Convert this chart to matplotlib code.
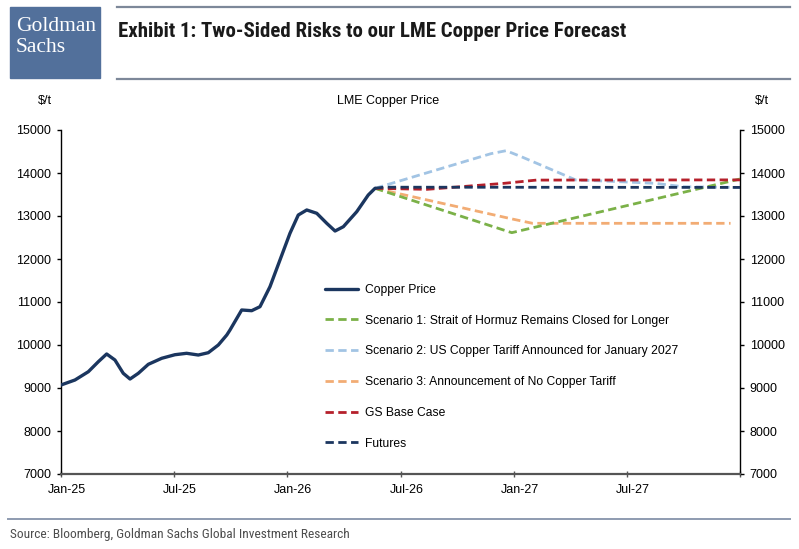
import numpy as np
import matplotlib
matplotlib.use("Agg")
import matplotlib.pyplot as plt
import matplotlib.font_manager as fm
import matplotlib.transforms as mtransforms

# months counted from Jan-25 (0) to Jan-28 (36)
tick_pos = [0, 6, 12, 18, 24, 30, 36]
tick_labels = ["Jan-25", "Jul-25", "Jan-26", "Jul-26", "Jan-27", "Jul-27", ""]
y_ticks = [7000, 8000, 9000, 10000, 11000, 12000, 13000, 14000, 15000]

copper_x = [0.0, 0.74, 1.45, 1.98, 2.42, 2.86, 3.30, 3.66, 4.10, 4.63, 5.34, 6.04,
            6.66, 7.28, 7.81, 8.34, 8.79, 8.96, 9.58, 10.11, 10.55, 11.08, 11.61,
            12.14, 12.58, 13.03, 13.56, 14.09, 14.53, 14.97, 15.68, 16.29, 16.65]
copper_y = [9070, 9186, 9379, 9612, 9791, 9651, 9342, 9209, 9342, 9551, 9691, 9774,
            9807, 9767, 9821, 10000, 10233, 10349, 10814, 10798, 10891, 11356, 11977,
            12598, 13023, 13140, 13063, 12830, 12651, 12751, 13100, 13488, 13644]

scen1_x = [16.65, 23.9, 36.0]
scen1_y = [13644, 12612, 13860]

scen2_x = [16.65, 22.8, 23.6, 24.4, 27.3, 29.0, 31.5, 33.0, 36.0]
scen2_y = [13644, 14450, 14519, 14380, 13837, 13810, 13760, 13680, 13665]

scen3_x = [16.65, 24.0, 25.0, 35.5]
scen3_y = [13644, 12923, 12830, 12830]

base_x = [16.65, 19.4, 23.5, 25.2, 36.0]
base_y = [13644, 13620, 13760, 13835, 13840]

fut_x = [16.65, 17.1, 36.0]
fut_y = [13644, 13670, 13665]

labels = ["Copper Price",
          "Scenario 1: Strait of Hormuz Remains Closed for Longer",
          "Scenario 2: US Copper Tariff Announced for January 2027",
          "Scenario 3: Announcement of No Copper Tariff",
          "GS Base Case",
          "Futures"]

navy = "#1b365f"
green = "#7bb148"
lblue = "#a2c4e4"
orange = "#f2ac74"
red = "#b5202b"
gs_blue = "#52709b"
rule = "#7d8899"

# fonts
names = {f.name for f in fm.fontManager.ttflist}
body_font = "Liberation Sans" if "Liberation Sans" in names else "DejaVu Sans"
narrow = None
for c in ["Liberation Sans Narrow", "Roboto Condensed", "Open Sans Condensed"]:
    if c in names:
        narrow = dict(family=c)
        break
if narrow is None:
    cond = [f for f in fm.fontManager.ttflist
            if f.name == "DejaVu Sans" and "ondensed" in f.fname]
    narrow = dict(family="DejaVu Sans", stretch="condensed") if cond else dict(family=body_font)
serif = "Liberation Serif" if "Liberation Serif" in names else "DejaVu Serif"

plt.rcParams["font.family"] = body_font

W, H = 799, 549
fig = plt.figure(figsize=(W / 100, H / 100), dpi=100)


def fx(px):
    return px / W


def fy(py):
    return 1 - py / H


# header
fig.patches.append(plt.Rectangle((fx(10), fy(78)), fx(100) - fx(10), fy(7) - fy(78),
                                 transform=fig.transFigure, color=gs_blue, zorder=0))
fig.text(fx(16), fy(31), "Goldman", family=serif, color="white", fontsize=15.5)
fig.text(fx(16), fy(52), "Sachs", family=serif, color="white", fontsize=15.5)

for yy in [7, 79]:
    fig.add_artist(plt.Line2D([fx(117), fx(790)], [fy(yy), fy(yy)],
                              transform=fig.transFigure, color=rule, lw=1.6))
fig.add_artist(plt.Line2D([fx(8), fx(790)], [fy(519), fy(519)],
                          transform=fig.transFigure, color="#8e9bb0", lw=1.4))

title = fig.text(fx(118), fy(37), "Exhibit 1: Two-Sided Risks to our LME Copper Price Forecast",
                 fontsize=14, fontweight="bold", color="#1a1a1a", **narrow)
source = fig.text(fx(10), fy(538), "Source: Bloomberg, Goldman Sachs Global Investment Research",
                  fontsize=9.5, color="#4d4d4d", **narrow)

# fit the header/source widths to the reference
r = fig.canvas.get_renderer()
for t, target in [(title, 510), (source, 340)]:
    w = t.get_window_extent(r).width
    t.set_fontsize(t.get_fontsize() * target / w)

fig.text(fx(45), fy(101), "$/t", ha="center", va="center", fontsize=9)
fig.text(fx(388), fy(101), "LME Copper Price", ha="center", va="center", fontsize=9)
fig.text(fx(762), fy(101), "$/t", ha="center", va="center", fontsize=9)

# chart
ax = fig.add_axes([fx(61), fy(474), fx(740) - fx(61), fy(130) - fy(474)])
ax.set_xlim(0, 36)
ax.set_ylim(7000, 15000)

dash = (3, 1.6)
ax.plot(copper_x, copper_y, color=navy, lw=2.4, solid_capstyle="round",
        solid_joinstyle="round", label=labels[0], zorder=5)
ax.plot(scen1_x, scen1_y, color=green, lw=2, dashes=dash, label=labels[1], zorder=3)
ax.plot(scen2_x, scen2_y, color=lblue, lw=2, dashes=dash, label=labels[2], zorder=2)
ax.plot(scen3_x, scen3_y, color=orange, lw=2, dashes=dash, label=labels[3], zorder=2)
ax.plot(base_x, base_y, color=red, lw=2, dashes=dash, label=labels[4], zorder=4)
ax.plot(fut_x, fut_y, color=navy, lw=2, dashes=dash, label=labels[5], zorder=4)

ax.set_xticks(tick_pos)
ax.set_xticklabels(tick_labels)
ax.set_yticks(y_ticks)
ax.set_yticklabels([str(v) for v in y_ticks])

ax.spines["top"].set_visible(False)
for s in ["left", "right"]:
    ax.spines[s].set_linewidth(1.0)
    ax.spines[s].set_color("black")
ax.spines["bottom"].set_linewidth(1.6)
ax.spines["bottom"].set_color("#555555")

ax.tick_params(axis="y", which="both", left=True, right=True, labelleft=True,
               labelright=True, direction="out", length=3, width=1, pad=4,
               labelsize=9, colors="black")
ax.tick_params(axis="x", direction="inout", length=4.5, width=1, pad=5,
               labelsize=9, color="#555555")

off = mtransforms.ScaledTranslation(6 / 100, 0, fig.dpi_scale_trans)
for lab in ax.get_xticklabels():
    lab.set_transform(lab.get_transform() + off)

leg = ax.legend(loc="upper left", bbox_to_anchor=(fx(325), fy(284)),
                bbox_transform=fig.transFigure, frameon=False, fontsize=8.7,
                handlelength=2.75, handletextpad=0.55, labelspacing=1.55,
                borderpad=0, borderaxespad=0)

fig.savefig("out.png", dpi=100)
